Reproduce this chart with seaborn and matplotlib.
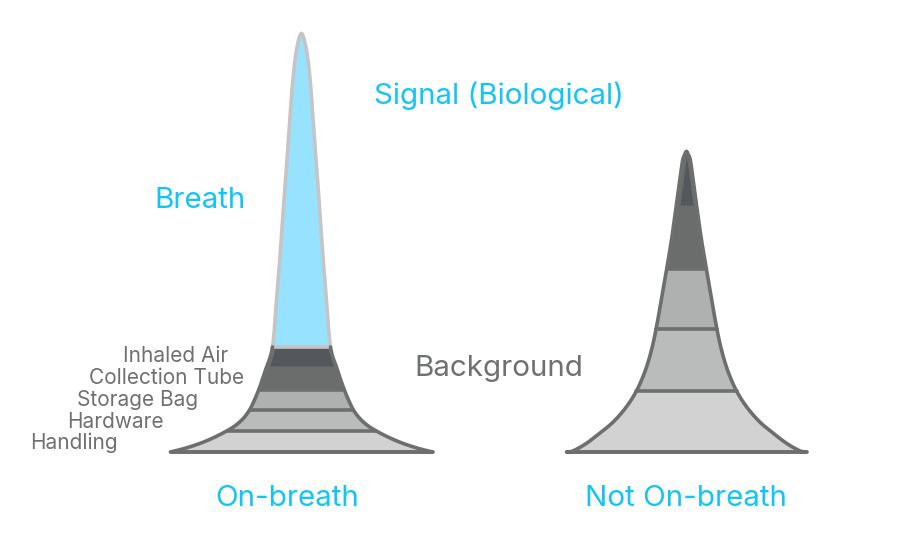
import numpy as np
import pandas as pd
import matplotlib
matplotlib.use("Agg")
import matplotlib.pyplot as plt
import seaborn as sns

# Peak profiles: height (image px) and half width (px)
left_y = [33.5, 37, 45, 60, 90, 140, 200, 250, 300, 347, 370, 385, 400, 411.7, 421.7, 430, 440, 447.3, 452]
left_w = [0, 2, 4, 6.5, 9.5, 13, 17.5, 21, 25, 29, 36, 41, 47, 53, 61.5, 73, 93, 113, 131]
right_y = [151.5, 155, 160, 175, 205, 240, 270, 290, 327, 350, 370, 390, 406.7, 421.7, 433, 443.3, 450.7, 452]
right_w = [0, 2, 3.8, 6, 10, 15, 20, 23.5, 30, 35, 41, 49.5, 60, 73, 86.5, 100, 113, 120]

left_center, right_center = 301.5, 686.5
left_levels = [452, 431, 410, 390, 347]
right_levels = [452, 391, 329, 269, 151.5]
band_colors = ["#d1d2d1", "#babcbb", "#afb1b0", "#6b6d6c"]
blue_fill, pale_line, core = "#97e3ff", "#c5c5c5", "#54575b"
outline = "#6d6e6e"
text_blue, text_grey = "#12c4f7", "#6f7070"
FAMILY = ["Inter", "DejaVu Sans"]


def smooth(ys, ws, n=24):
    """Catmull-Rom curve through the read points, rounded at the peak."""
    p = np.column_stack([ys, ws]).astype(float)
    p = np.vstack([[p[1, 0], -p[1, 1]], p, 2 * p[-1] - p[-2]])
    out = []
    t = np.linspace(0, 1, n, endpoint=False)[:, None]
    for i in range(1, len(p) - 2):
        a, b, c, d = p[i - 1], p[i], p[i + 1], p[i + 2]
        out.append(0.5 * (2 * b + (c - a) * t + (2 * a - 5 * b + 4 * c - d) * t ** 2
                          + (3 * b - a - 3 * c + d) * t ** 3))
    out.append(p[-2][None, :])
    q = np.vstack(out)
    return q[:, 0], q[:, 1]


def segment(curve, a, b):
    ys, ws = curve
    inner = ys[(ys > a) & (ys < b)]
    yy = np.r_[a, inner, b]
    return yy, np.interp(yy, ys, ws)


sns.set_theme(style="white")
plt.rcParams["font.family"] = FAMILY

fig, ax = plt.subplots(figsize=(9, 5.41), dpi=100)
fig.subplots_adjust(0, 0, 1, 1)
ax.set_xlim(0, 900)
ax.set_ylim(541, 0)
ax.axis("off")


def draw_line(xs, ys, color):
    df = pd.DataFrame({"x": xs, "y": ys})
    sns.lineplot(data=df, x="x", y="y", ax=ax, color=color, lw=2.6, sort=False,
                 estimator=None, zorder=4)


def bands(center, curve, levels):
    for i, col in enumerate(band_colors):
        yy, hw = segment(curve, levels[i + 1], levels[i])
        ax.fill_betweenx(yy, center - hw, center + hw, color=col, lw=0, zorder=1)
    for lv in levels[:-1]:
        hw = np.interp(lv, *curve)
        draw_line([center - hw, center + hw], [lv, lv], outline)


def contour(center, curve, a, b, color):
    yy, hw = segment(curve, a, b)
    draw_line(np.r_[center - hw, (center + hw)[::-1]], np.r_[yy, yy[::-1]], color)


# On-breath peak
lc = smooth(left_y, left_w)
bands(left_center, lc, left_levels)
yy, hw = segment(lc, 33.5, 347)
ax.fill_betweenx(yy, left_center - hw, left_center + hw, color=blue_fill, lw=0, zorder=1)
contour(left_center, lc, 33.5, 347, pale_line)
contour(left_center, lc, 347, 452, outline)
yy, hw = segment(lc, 348, 366)
ax.fill_betweenx(yy, left_center - hw + 2.5, left_center + hw - 2.5, color=core, lw=0, zorder=2)

# Not on-breath peak
rc = smooth(right_y, right_w)
bands(right_center, rc, right_levels)
contour(right_center, rc, 151.5, 452, outline)
yy, hw = segment(rc, 158, 205)
inset = np.maximum(hw - 3.5, 0)
ax.fill_betweenx(yy, right_center - inset, right_center + inset, color=core, lw=0, zorder=2)

big = dict(fontsize=21.3, ha="center", va="center", fontweight="normal")
ax.text(499, 96, "Signal (Biological)", color=text_blue, **big)
ax.text(200, 201, "Breath", color=text_blue, **big)
ax.text(287, 498, "On-breath", color=text_blue, **big)
ax.text(686, 498, "Not On-breath", color=text_blue, **big)
ax.text(499, 368, "Background", color=text_grey, **big)
for name, x, y in [("Inhaled Air", 228, 356), ("Collection Tube", 244, 378),
                   ("Storage Bag", 198, 400), ("Hardware", 164, 422), ("Handling", 118, 443)]:
    ax.text(x, y, name, color=text_grey, fontsize=15, ha="right", va="center", fontweight="normal")
fig.savefig("out.png", dpi=100)
